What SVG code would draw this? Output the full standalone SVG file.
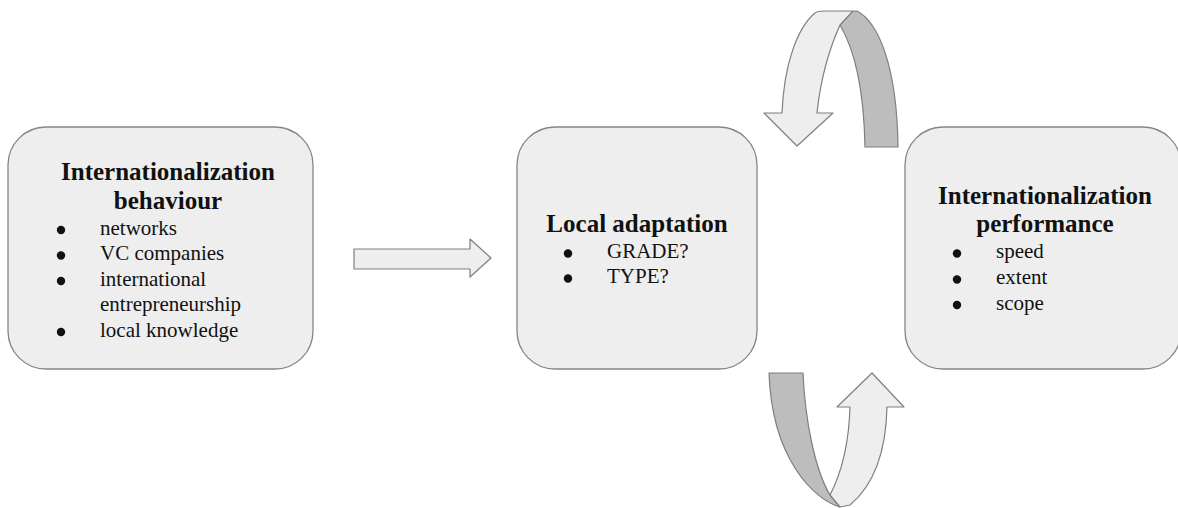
<svg xmlns="http://www.w3.org/2000/svg" width="1178" height="508" viewBox="0 0 1178 508">
  <style>
    .box { fill: #eeeeee; stroke: #858585; stroke-width: 1.3; }
    .light { fill: #eeeeee; stroke: #7f7f7f; stroke-width: 1.2; stroke-linejoin: round; }
    .dark { fill: #bdbdbd; stroke: #7f7f7f; stroke-width: 1.2; stroke-linejoin: round; }
    .title { font-family: "Liberation Serif", "Times New Roman", serif; font-size: 25px; font-weight: bold; fill: #111; text-anchor: middle; }
    .item { font-family: "Liberation Serif", "Times New Roman", serif; font-size: 21px; fill: #111; }
    .dot { fill: #111; }
  </style>
  <defs>
    <circle id="bullet" class="dot" r="4.2"/>
  </defs>
  <rect width="1178" height="508" fill="#ffffff"/>

  <g id="behaviour">
    <rect class="box" x="8" y="127" width="305" height="242" rx="38" ry="38"/>
    <text class="title" x="168" y="180">Internationalization</text>
    <text class="title" x="168" y="209">behaviour</text>
    <use href="#bullet" x="61" y="230"/>
    <text class="item" x="100" y="234.5">networks</text>
    <use href="#bullet" x="61" y="255.5"/>
    <text class="item" x="100" y="260">VC companies</text>
    <use href="#bullet" x="61" y="281"/>
    <text class="item" x="100" y="285.5">international</text>
    <text class="item" x="100" y="311">entrepreneurship</text>
    <use href="#bullet" x="61" y="332"/>
    <text class="item" x="100" y="336.5">local knowledge</text>
  </g>

  <g id="adaptation">
    <rect class="box" x="517" y="127" width="240" height="242" rx="38" ry="38"/>
    <text class="title" x="637" y="232">Local adaptation</text>
    <use href="#bullet" x="568" y="253.5"/>
    <text class="item" x="607" y="258">GRADE?</text>
    <use href="#bullet" x="568" y="278.5"/>
    <text class="item" x="607" y="283">TYPE?</text>
  </g>

  <g id="performance">
    <rect class="box" x="905" y="127" width="276" height="242" rx="38" ry="38"/>
    <text class="title" x="1045" y="204">Internationalization</text>
    <text class="title" x="1045" y="232">performance</text>
    <use href="#bullet" x="957" y="253.5"/>
    <text class="item" x="996" y="258">speed</text>
    <use href="#bullet" x="957" y="279.5"/>
    <text class="item" x="996" y="284">extent</text>
    <use href="#bullet" x="957" y="305"/>
    <text class="item" x="996" y="309.5">scope</text>
  </g>

  <g id="connectors">
    <!-- straight block arrow: behaviour to adaptation -->
    <polygon class="light" points="354,249 470,249 470,239 491,258 470,277 470,269 354,269"/>

    <!-- upper curved arrow, folding back down onto adaptation -->
    <path class="dark" d="M 840,25 L 851,12 Q 853,11 857,11 C 878,22 897,65 898,147 L 865,147 C 864,95 856,52 840,25 Z"/>
    <path class="light" d="M 782,113 C 784,65 797,28 815,13 Q 818,11 824,11 L 853,11 L 840,25 C 831,45 821,75 817,113 L 833,113 L 797,146 L 764,113 Z"/>

    <!-- lower curved arrow, rising up toward performance -->
    <path class="dark" d="M 769,373 L 803,373 C 805,420 815,470 830,495 L 840,507 C 815,500 772,460 769,373 Z"/>
    <path class="light" d="M 830,495 C 842,472 849,440 850,407 L 837,407 L 872,373 L 904,407 L 887,407 C 886,450 874,485 850,505 L 840,507 Z"/>
  </g>
</svg>
